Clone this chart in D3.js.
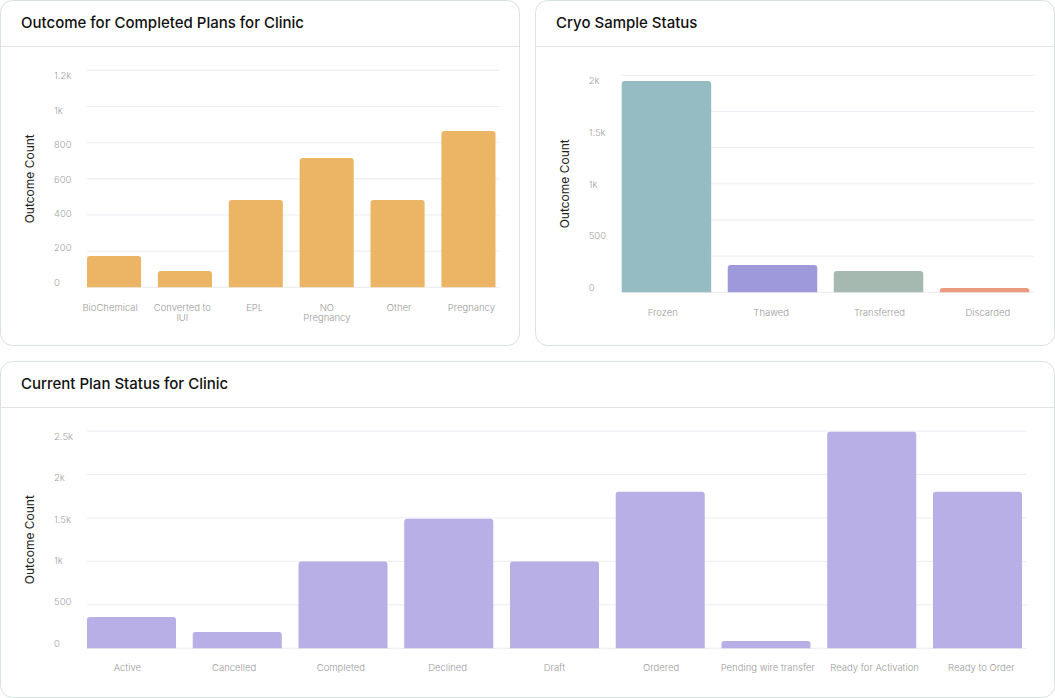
<!DOCTYPE html>
<html>
<head>
<meta charset="utf-8">
<script src="https://cdn.jsdelivr.net/npm/d3@7/dist/d3.min.js"></script>
<style>
  html, body { margin: 0; padding: 0; background: #ffffff; }
  svg { display: block; }
</style>
</head>
<body>
<div id="chart"></div>
<script>
// ---------- DATA ----------
const outcomeCategories = ["BioChemical", "Converted to IUI", "EPL", "NO Pregnancy", "Other", "Pregnancy"];
const outcomeValues = [173, 90, 483, 715, 483, 864];
const outcomeTicks = [0, 200, 400, 600, 800, 1000, 1200];

const cryoCategories = ["Frozen", "Thawed", "Transferred", "Discarded"];
const cryoValues = [1947, 252, 196, 40];
const cryoTicks = [0, 500, 1000, 1500, 2000];
const cryoColors = ["#95BCC2", "#9E9ADA", "#A6B9B0", "#EA9B7F"];

const planCategories = ["Active", "Cancelled", "Completed", "Declined", "Draft", "Ordered", "Pending wire transfer", "Ready for Activation", "Ready to Order"];
const planValues = [360, 188, 1000, 1490, 1000, 1800, 85, 2490, 1800];
const planTicks = [0, 500, 1000, 1500, 2000, 2500];

// ---------- LAYOUT ----------
const W = 1055, H = 698;
const FONT = "Inter, Lato, 'Noto Sans', sans-serif";

const svg = d3.select("#chart").append("svg")
  .attr("width", W).attr("height", H)
  .attr("viewBox", `0 0 ${W} ${H}`);

const fmt = v => v >= 1000 ? (v / 1000) + "k" : String(v);

function panel(cfg) {
  const g = svg.append("g");
  // card
  g.append("rect")
    .attr("x", cfg.x + 0.5).attr("y", cfg.y + 0.5)
    .attr("width", cfg.w).attr("height", cfg.h)
    .attr("rx", 12).attr("ry", 12)
    .attr("fill", "#fff").attr("stroke", "#d8e2de").attr("stroke-width", 1);
  // header divider
  g.append("line")
    .attr("x1", cfg.x + 0.5).attr("x2", cfg.x + cfg.w + 0.5)
    .attr("y1", cfg.headerY).attr("y2", cfg.headerY)
    .attr("stroke", "#e2e5e5").attr("stroke-width", 1);
  // title
  g.append("text")
    .attr("x", cfg.x + 21).attr("y", cfg.titleY)
    .attr("dominant-baseline", "central")
    .attr("font-family", FONT).attr("font-size", 15).attr("font-weight", 500)
    .attr("fill", "#111").text(cfg.title);

  const y = d3.scaleLinear().domain([0, cfg.max]).range([cfg.bottom, cfg.top]);
  const yLabel = d3.scaleLinear().domain([0, cfg.max]).range([cfg.bottom - 5, cfg.top + 5.5]);
  const x = d3.scaleBand().domain(cfg.categories)
    .range([cfg.plotLeft, cfg.plotRight])
    .paddingInner(cfg.padInner).paddingOuter(0);
  const xLabel = d3.scaleBand().domain(cfg.categories)
    .range([cfg.plotLeft - 13, cfg.gridRight + 8]);

  // grid
  g.append("g").selectAll("line").data(cfg.grid).join("line")
    .attr("x1", cfg.plotLeft).attr("x2", cfg.gridRight)
    .attr("y1", d => y(d)).attr("y2", d => y(d))
    .attr("stroke", "#eaecf1").attr("stroke-width", 1);

  // tick labels
  g.append("g").selectAll("text").data(cfg.ticks).join("text")
    .attr("x", cfg.plotLeft - 33).attr("y", d => yLabel(d))
    .attr("dominant-baseline", "central")
    .attr("font-family", FONT).attr("font-size", 9.5).attr("font-weight", 300)
    .attr("fill", "#a3a3a3").text(fmt);

  // y title
  g.append("text")
    .attr("transform", `translate(${cfg.yTitleX},${(cfg.top + cfg.bottom) / 2}) rotate(-90)`)
    .attr("text-anchor", "middle").attr("dominant-baseline", "central")
    .attr("font-family", FONT).attr("font-size", 12).attr("fill", "#222")
    .text("Outcome Count");

  // bars
  const r = 3;
  g.append("g").selectAll("path").data(cfg.categories.map((c, i) => ({ c, v: cfg.values[i], i }))).join("path")
    .attr("d", d => {
      const x0 = x(d.c), x1 = x0 + x.bandwidth(), yt = y(d.v), yb = y(0);
      const rr = Math.min(r, (yb - yt));
      return `M${x0},${yb}V${yt + rr}Q${x0},${yt} ${x0 + rr},${yt}H${x1 - rr}Q${x1},${yt} ${x1},${yt + rr}V${yb}Z`;
    })
    .attr("fill", d => cfg.colors[d.i % cfg.colors.length]);

  // x labels with wrapping
  const maxW = cfg.wrapWidth;
  cfg.categories.forEach(c => {
    const cx = xLabel(c) + xLabel.bandwidth() / 2;
    const t = g.append("text")
      .attr("x", cx).attr("y", cfg.labelY)
      .attr("text-anchor", "middle").attr("dominant-baseline", "central")
      .attr("font-family", FONT).attr("font-size", 9.5).attr("font-weight", 300)
      .attr("fill", "#9a9a9a");
    const words = c.split(" ");
    let lines = [], cur = [];
    const probe = t.append("tspan");
    words.forEach(w => {
      const test = cur.concat([w]).join(" ");
      probe.text(test);
      if (probe.node().getComputedTextLength() > maxW && cur.length) {
        lines.push(cur.join(" "));
        cur = [w];
      } else cur.push(w);
    });
    lines.push(cur.join(" "));
    probe.remove();
    lines.forEach((ln, k) => {
      t.append("tspan").attr("x", cx).attr("dy", k === 0 ? 0 : 10).text(ln);
    });
  });
}

panel({
  x: 0, y: 0, w: 519, h: 345, headerY: 46.5, titleY: 22.3,
  title: "Outcome for Completed Plans for Clinic",
  categories: outcomeCategories, values: outcomeValues, colors: ["#EBB565"],
  max: 1200, ticks: outcomeTicks, grid: outcomeTicks,
  plotLeft: 87, plotRight: 495.5, gridRight: 499.5, top: 70.3, bottom: 287.3,
  padInner: 0.237, labelY: 306.7, yTitleX: 29, wrapWidth: 60
});

panel({
  x: 535, y: 0, w: 519, h: 345, headerY: 46.5, titleY: 22.3,
  title: "Cryo Sample Status",
  categories: cryoCategories, values: cryoValues, colors: cryoColors,
  max: 2000, ticks: cryoTicks, grid: d3.range(7).map(i => i * 2000 / 6),
  plotLeft: 621.7, plotRight: 1029.3, gridRight: 1034, top: 75.3, bottom: 292.3,
  padInner: 0.156, labelY: 311.7, yTitleX: 564, wrapWidth: 100
});

panel({
  x: 0, y: 361, w: 1054, h: 336, headerY: 407.5, titleY: 383.3,
  title: "Current Plan Status for Clinic",
  categories: planCategories, values: planValues, colors: ["#B7AFE6"],
  max: 2500, ticks: planTicks, grid: planTicks,
  plotLeft: 87, plotRight: 1022, gridRight: 1026.7, top: 431, bottom: 648.3,
  padInner: 0.158, labelY: 667.3, yTitleX: 29, wrapWidth: 100
});
</script>
</body>
</html>
